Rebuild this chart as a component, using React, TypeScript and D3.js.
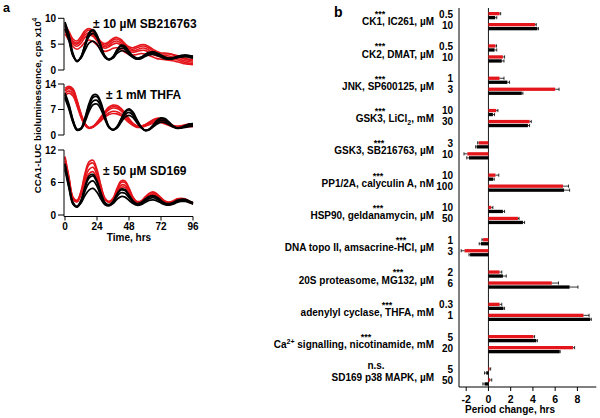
import React from 'react';
import * as d3 from 'd3';

// ---------- Panel a data (bioluminescence traces, cps x10^4) ----------
const HOURS = [0, 3, 6, 9, 12, 15, 18, 21, 24, 27, 30, 33, 36, 39, 42, 45, 48, 51, 54, 57, 60, 63, 66, 69, 72, 75, 78, 81, 84, 87, 90, 93, 96];

const SB_RED = [
  [8.0, 6.8, 5.6, 5.2, 6.0, 7.2, 7.7, 7.3, 6.2, 5.2, 4.8, 5.2, 5.8, 6.0, 5.6, 4.8, 4.2, 4.0, 4.3, 4.6, 4.6, 4.2, 3.7, 3.3, 3.1, 3.1, 3.1, 2.9, 2.6, 2.3, 2.1, 1.9, 1.8],
  [7.5, 6.2, 5.0, 4.6, 5.2, 6.3, 6.8, 6.5, 5.6, 4.6, 4.2, 4.5, 5.0, 5.2, 4.8, 4.1, 3.6, 3.4, 3.6, 3.8, 3.8, 3.4, 3.0, 2.7, 2.5, 2.5, 2.4, 2.2, 2.0, 1.7, 1.5, 1.3, 1.2],
  [7.0, 5.7, 4.5, 4.0, 4.5, 5.4, 5.8, 5.5, 4.8, 4.0, 3.6, 3.8, 4.2, 4.3, 4.0, 3.4, 3.0, 2.9, 3.0, 3.2, 3.1, 2.8, 2.5, 2.2, 2.1, 2.0, 1.9, 1.8, 1.6, 1.4, 1.2, 1.1, 1.0],
  [8.8, 7.4, 6.0, 5.6, 6.5, 7.6, 8.0, 7.6, 6.5, 5.5, 5.1, 5.5, 6.1, 6.3, 5.9, 5.1, 4.5, 4.3, 4.6, 4.9, 4.9, 4.5, 4.0, 3.6, 3.3, 3.3, 3.2, 3.0, 2.8, 2.5, 2.3, 2.1, 2.0],
  [7.8, 6.5, 5.3, 5.0, 5.7, 6.8, 7.2, 6.8, 5.8, 4.9, 4.5, 4.8, 5.4, 5.6, 5.2, 4.5, 3.9, 3.7, 3.9, 4.2, 4.2, 3.8, 3.3, 3.0, 2.8, 2.8, 2.7, 2.5, 2.3, 2.0, 1.8, 1.6, 1.5],
];
const SB_BLACK = [
  [9.0, 6.5, 3.0, 1.6, 2.5, 5.0, 7.2, 7.8, 6.8, 4.6, 2.6, 2.0, 2.5, 3.8, 4.6, 4.3, 3.4, 2.6, 2.2, 2.4, 2.9, 3.3, 3.4, 3.2, 2.8, 2.4, 2.2, 2.3, 2.6, 2.8, 2.9, 2.8, 2.6],
  [8.5, 6.0, 2.8, 1.7, 2.4, 4.5, 6.5, 7.1, 6.2, 4.3, 2.5, 2.0, 2.4, 3.5, 4.2, 4.0, 3.2, 2.5, 2.1, 2.3, 2.7, 3.1, 3.2, 3.0, 2.6, 2.3, 2.1, 2.2, 2.4, 2.6, 2.7, 2.6, 2.4],
  [8.0, 5.6, 2.7, 1.8, 2.3, 3.8, 5.2, 5.6, 5.0, 3.6, 2.4, 2.0, 2.3, 3.2, 3.7, 3.6, 3.0, 2.4, 2.1, 2.2, 2.6, 2.9, 3.0, 2.8, 2.5, 2.2, 2.1, 2.2, 2.4, 2.5, 2.6, 2.5, 2.3],
  [9.3, 6.8, 3.2, 1.7, 2.6, 4.8, 6.9, 7.6, 6.6, 4.5, 2.7, 2.1, 2.6, 3.9, 4.8, 4.6, 3.6, 2.7, 2.3, 2.5, 3.0, 3.4, 3.5, 3.3, 2.9, 2.5, 2.3, 2.4, 2.6, 2.8, 2.9, 2.8, 2.7],
];

const THFA_RED = [
  [12.0, 12.8, 12.0, 9.0, 5.5, 3.0, 2.0, 2.3, 3.3, 4.6, 5.9, 6.9, 7.4, 7.3, 6.6, 5.4, 4.1, 3.0, 2.4, 2.3, 2.7, 3.3, 3.9, 4.2, 4.1, 3.6, 3.0, 2.5, 2.3, 2.4, 2.6, 2.8, 2.8],
  [11.4, 12.1, 11.3, 8.4, 5.1, 2.8, 1.9, 2.2, 3.1, 4.2, 5.3, 6.1, 6.5, 6.4, 5.8, 4.8, 3.7, 2.8, 2.3, 2.2, 2.5, 3.0, 3.5, 3.8, 3.7, 3.3, 2.8, 2.4, 2.2, 2.3, 2.4, 2.5, 2.5],
  [12.8, 13.4, 12.7, 9.6, 5.9, 3.2, 2.1, 2.4, 3.5, 5.0, 6.5, 7.7, 8.2, 8.1, 7.3, 6.0, 4.5, 3.2, 2.5, 2.4, 2.8, 3.5, 4.2, 4.6, 4.5, 3.9, 3.2, 2.6, 2.4, 2.5, 2.8, 3.0, 3.0],
  [10.8, 11.5, 10.7, 8.0, 4.8, 2.6, 1.8, 2.1, 2.9, 3.9, 4.9, 5.6, 5.9, 5.8, 5.3, 4.4, 3.4, 2.6, 2.1, 2.1, 2.4, 2.8, 3.2, 3.4, 3.4, 3.0, 2.6, 2.2, 2.0, 2.1, 2.2, 2.3, 2.3],
  [12.3, 13.0, 12.4, 9.3, 5.7, 3.1, 2.0, 2.3, 3.4, 4.8, 6.2, 7.3, 7.8, 7.7, 7.0, 5.7, 4.3, 3.1, 2.5, 2.4, 2.8, 3.4, 4.0, 4.4, 4.3, 3.8, 3.1, 2.6, 2.3, 2.4, 2.7, 2.9, 2.9],
];
const THFA_BLACK = [
  [11.0, 8.0, 4.0, 1.5, 1.8, 4.5, 8.0, 10.3, 10.5, 8.5, 5.0, 2.2, 1.4, 2.2, 4.2, 6.2, 6.9, 6.0, 4.0, 2.2, 1.2, 1.5, 2.6, 3.8, 4.5, 4.3, 3.4, 2.4, 1.9, 2.0, 2.5, 2.9, 3.0],
  [10.5, 7.4, 3.6, 1.4, 1.7, 4.0, 7.2, 9.3, 9.5, 7.8, 4.6, 2.1, 1.4, 2.0, 3.8, 5.6, 6.2, 5.4, 3.7, 2.1, 1.3, 1.5, 2.4, 3.4, 4.0, 3.9, 3.1, 2.3, 1.9, 2.0, 2.3, 2.6, 2.7],
  [11.5, 8.4, 4.2, 1.6, 1.9, 4.8, 8.6, 10.9, 11.0, 8.9, 5.2, 2.3, 1.5, 2.3, 4.4, 6.5, 7.2, 6.3, 4.2, 2.3, 1.3, 1.6, 2.7, 4.0, 4.7, 4.5, 3.6, 2.5, 2.0, 2.1, 2.6, 3.0, 3.1],
  [10.0, 7.0, 3.4, 1.3, 1.6, 3.6, 6.4, 8.3, 8.5, 7.0, 4.2, 2.0, 1.4, 1.9, 3.4, 4.9, 5.4, 4.8, 3.3, 2.0, 1.3, 1.4, 2.2, 3.0, 3.5, 3.4, 2.8, 2.2, 1.8, 1.9, 2.1, 2.3, 2.4],
];

const SD_RED = [
  [10.5, 6.8, 3.2, 2.6, 4.2, 7.3, 9.3, 9.6, 8.0, 5.2, 3.0, 2.4, 3.0, 4.7, 6.0, 6.0, 4.8, 3.2, 2.4, 2.5, 3.2, 3.9, 4.1, 3.8, 3.1, 2.5, 2.3, 2.5, 2.9, 3.0, 2.9, 2.5, 2.2],
  [10.0, 6.4, 3.0, 2.5, 3.9, 6.6, 8.4, 8.8, 7.3, 4.8, 2.9, 2.4, 2.9, 4.4, 5.5, 5.5, 4.4, 3.0, 2.3, 2.4, 3.0, 3.6, 3.9, 3.6, 3.0, 2.4, 2.2, 2.4, 2.8, 2.9, 2.8, 2.4, 2.1],
  [10.8, 7.0, 3.3, 2.7, 4.4, 7.7, 9.8, 10.1, 8.4, 5.4, 3.1, 2.5, 3.1, 4.9, 6.3, 6.3, 5.0, 3.3, 2.5, 2.6, 3.3, 4.0, 4.3, 3.9, 3.2, 2.6, 2.4, 2.6, 3.0, 3.1, 3.0, 2.6, 2.3],
  [9.6, 6.1, 2.9, 2.4, 3.7, 6.1, 7.6, 8.0, 6.7, 4.5, 2.8, 2.3, 2.8, 4.2, 5.1, 5.1, 4.1, 2.9, 2.3, 2.4, 2.9, 3.5, 3.7, 3.4, 2.8, 2.3, 2.2, 2.3, 2.7, 2.8, 2.7, 2.3, 2.1],
];
const SD_BLACK = [
  [9.2, 5.5, 2.2, 1.5, 2.6, 5.0, 6.8, 7.2, 6.0, 3.8, 2.2, 1.8, 2.4, 3.7, 4.6, 4.5, 3.6, 2.5, 2.0, 2.2, 2.8, 3.3, 3.5, 3.2, 2.6, 2.1, 2.0, 2.2, 2.6, 2.8, 2.8, 2.5, 2.2],
  [8.8, 5.2, 2.1, 1.5, 2.4, 4.4, 5.9, 6.3, 5.3, 3.4, 2.1, 1.8, 2.3, 3.4, 4.1, 4.0, 3.2, 2.3, 1.9, 2.1, 2.6, 3.0, 3.2, 2.9, 2.4, 2.0, 1.9, 2.1, 2.5, 2.7, 2.7, 2.4, 2.1],
  [8.4, 4.9, 2.0, 1.5, 2.2, 3.6, 4.6, 4.9, 4.2, 2.9, 1.9, 1.7, 2.1, 2.9, 3.4, 3.3, 2.7, 2.1, 1.8, 1.9, 2.3, 2.7, 2.8, 2.6, 2.2, 1.9, 1.8, 2.0, 2.3, 2.5, 2.5, 2.3, 2.0],
  [9.5, 5.7, 2.3, 1.6, 2.7, 5.3, 7.2, 7.5, 6.3, 4.0, 2.3, 1.9, 2.5, 3.9, 4.8, 4.7, 3.7, 2.6, 2.1, 2.3, 2.9, 3.4, 3.6, 3.3, 2.7, 2.2, 2.1, 2.3, 2.7, 2.9, 2.9, 2.6, 2.3],
];

const TRACE_TITLES = ['± 10 µM SB216763', '± 1 mM THFA', '± 50 µM SD169'];
const TRACE_MAX = [10, 14, 12];
const TRACE_TICKS = [[0, 5, 10], [0, 7, 14], [0, 6, 12]];
const TIME_TICKS = [0, 24, 48, 72, 96];

// ---------- Panel b data (period change, hrs) ----------
const GROUPS = [
  'CK1, IC261, µM',
  'CK2, DMAT, µM',
  'JNK, SP600125, µM',
  'GSK3, LiCl_2, mM',
  'GSK3, SB216763, µM',
  'PP1/2A, calyculin A, nM',
  'HSP90, geldanamycin, µM',
  'DNA topo II, amsacrine-HCl, µM',
  '20S proteasome, MG132, µM',
  'adenylyl cyclase, THFA, mM',
  'Ca^2+ signalling, nicotinamide, mM',
  'SD169 p38 MAPK, µM',
];
const SIGNIF = ['***', '***', '***', '***', '***', '***', '***', '***', '***', '***', '***', 'n.s.'];
const DOSES = [
  ['0.5', '10'], ['0.5', '10'], ['1', '3'], ['10', '30'], ['3', '10'], ['10', '100'],
  ['10', '50'], ['1', '3'], ['2', '6'], ['0.3', '1'], ['5', '20'], ['5', '50'],
];
const RED_VALUES = [
  [1.0, 4.2], [0.63, 1.3], [1.0, 6.0], [0.7, 3.7], [-0.87, -1.9], [0.63, 6.7],
  [0.25, 2.65], [-0.48, -2.15], [1.0, 5.7], [1.0, 8.55], [4.05, 7.6], [0.1, 0.15],
];
const RED_ERRORS = [
  [0.1, 0.1], [0.1, 0.15], [0.4, 0.35], [0.15, 0.15], [0.1, 0.3], [0.3, 0.5],
  [0.15, 0.1], [0.1, 0.3], [0.2, 0.6], [0.2, 0.5], [0.1, 0.15], [0.1, 0.15],
];
const BLACK_VALUES = [
  [0.6, 4.4], [0.55, 1.2], [1.7, 3.0], [0.4, 3.55], [-1.05, -1.75], [0.42, 6.8],
  [1.3, 3.1], [-0.68, -1.65], [1.3, 7.3], [1.35, 9.15], [4.3, 6.4], [-0.2, -0.35],
];
const BLACK_ERRORS = [
  [0.15, 0.1], [0.2, 0.2], [0.2, 0.1], [0.15, 0.15], [0.1, 0.2], [0.1, 0.5],
  [0.15, 0.15], [0.15, 0.1], [0.3, 0.75], [0.1, 0.1], [0.1, 0.05], [0.15, 0.15],
];
const PERIOD_TICKS = [-2, 0, 2, 4, 6, 8];

// ---------- layout ----------
const RED = '#e4151b';
const FONT = '"Liberation Sans", Arial, Helvetica, sans-serif';
const STAR_X = [380, 380, 380, 380, 379, 378, 378, 401, 398, 387, 366, 376];
const PANELS_Y: [number, number][] = [[70, 18.3], [135, 84], [215, 150]];
const TITLE_POS: [number, number][] = [[93, 28], [106, 99], [103, 175]];

function RichLabel({ text }: { text: string }) {
  const parts = text.split(/(_[^ ,]+|\^[^ ,]+)/).filter((p) => p.length);
  return (
    <>
      {parts.map((p, i) => {
        if (p.startsWith('_'))
          return <tspan key={i} fontSize={7} dy={2.5}>{p.slice(1)}</tspan>;
        if (p.startsWith('^'))
          return <tspan key={i} fontSize={7} dy={-4}>{p.slice(1)}</tspan>;
        const prev = parts[i - 1];
        const dy = prev && prev.startsWith('_') ? -2.5 : prev && prev.startsWith('^') ? 4 : 0;
        return <tspan key={i} dy={dy}>{p}</tspan>;
      })}
    </>
  );
}

export default function App() {
  // Panel a scales
  const x = d3.scaleLinear().domain([0, 96]).range([65, 193]);
  const traceSets = [
    { red: SB_RED, black: SB_BLACK },
    { red: THFA_RED, black: THFA_BLACK },
    { red: SD_RED, black: SD_BLACK },
  ];

  // Panel b scales
  const xb = d3.scaleLinear().domain([-2, 8]).range([466.2, 577.4]);
  const groupY = d3
    .scaleBand<number>()
    .domain(GROUPS.map((_, i) => i))
    .range([12, 12 + 32.3 * GROUPS.length])
    .padding(0);
  const barH = 3.3;
  const axisY = 387;
  const axisLeft = 459;

  return (
    <svg
      width={600}
      height={418}
      style={{ position: 'absolute', left: 0, top: 0, background: '#fff' }}
      fontFamily={FONT}
      fontWeight="bold"
    >
      <rect width={600} height={418} fill="#fff" />
      {/* panel letters */}
      <text x={3} y={11.5} fontSize={12.5} fontWeight="bold">a</text>
      <text x={334} y={16.5} fontSize={14} fontWeight="bold">b</text>

      {/* ---------- panel a ---------- */}
      {traceSets.map((set, pi) => {
        const y = d3.scaleLinear().domain([0, TRACE_MAX[pi]]).range(PANELS_Y[pi]);
        const line = d3
          .line<number>()
          .x((_, i) => x(HOURS[i]))
          .y((d) => y(d))
          .curve(d3.curveCatmullRom.alpha(0.5));
        const yBottom = pi === 2 ? 216.5 : y(0);
        return (
          <g key={pi}>
            {set.red.map((s, i) => (
              <path key={'r' + i} d={line(s) || ''} fill="none" stroke={RED} strokeWidth={1.6} />
            ))}
            {set.black.map((s, i) => (
              <path key={'b' + i} d={line(s) || ''} fill="none" stroke="#000" strokeWidth={1.7} />
            ))}
            <line x1={64} x2={64} y1={y(TRACE_MAX[pi])} y2={yBottom} stroke="#000" strokeWidth={1} />
            {TRACE_TICKS[pi].map((t) => (
              <g key={t}>
                <line x1={58} x2={64} y1={y(t)} y2={y(t)} stroke="#000" strokeWidth={1} />
                <text x={56} y={y(t) + 3.5} fontSize={10} textAnchor="end">{t}</text>
              </g>
            ))}
            <text x={TITLE_POS[pi][0]} y={TITLE_POS[pi][1]} fontSize={12}>{TRACE_TITLES[pi]}</text>
          </g>
        );
      })}
      {/* x axis for bottom trace panel */}
      <line x1={64} x2={x(96)} y1={216.5} y2={216.5} stroke="#000" strokeWidth={1} />
      {TIME_TICKS.map((t) => (
        <g key={t}>
          <line x1={x(t)} x2={x(t)} y1={216.5} y2={220.5} stroke="#000" strokeWidth={1} />
          <text x={x(t)} y={229.5} fontSize={10} textAnchor="middle">{t}</text>
        </g>
      ))}
      <text x={129} y={240.5} fontSize={10} textAnchor="middle">Time, hrs</text>
      <text
        transform="translate(40.5,105.5) rotate(-90)"
        fontSize={9.7}
        textAnchor="middle"
      >
        CCA1-LUC bioluminescence, cps x10<tspan fontSize={6.5} dy={-4}>4</tspan>
      </text>

      {/* ---------- panel b ---------- */}
      <line x1={axisLeft} x2={axisLeft} y1={8} y2={axisY} stroke="#000" strokeWidth={1} />
      <line x1={xb(0)} x2={xb(0)} y1={8} y2={axisY} stroke="#000" strokeWidth={0.9} />
      <line x1={axisLeft} x2={xb(9.7)} y1={axisY} y2={axisY} stroke="#000" strokeWidth={1} />
      {PERIOD_TICKS.map((t) => (
        <g key={t}>
          <line x1={xb(t)} x2={xb(t)} y1={axisY} y2={axisY + 4} stroke="#000" strokeWidth={1} />
          <text x={xb(t)} y={axisY + 15.5} fontSize={10.5} textAnchor="middle">{t}</text>
        </g>
      ))}
      <text x={510} y={412.5} fontSize={10} textAnchor="middle">Period change, hrs</text>

      {GROUPS.map((g, gi) => {
        const g0 = groupY(gi) as number;
        const bars: { v: number; e: number; color: string; off: number }[] = [];
        [0, 1].forEach((d) => {
          bars.push({ v: RED_VALUES[gi][d], e: RED_ERRORS[gi][d], color: RED, off: d * 11 });
          bars.push({ v: BLACK_VALUES[gi][d], e: BLACK_ERRORS[gi][d], color: '#000', off: d * 11 + 4 });
        });
        return (
          <g key={gi}>
            <text x={434} y={g0 + 13.2} fontSize={10} textAnchor="end">
              <RichLabel text={g} />
            </text>
            <text
              x={STAR_X[gi]}
              y={SIGNIF[gi] === 'n.s.' ? g0 + 1.8 : g0 + 5}
              fontSize={SIGNIF[gi] === 'n.s.' ? 10 : 9}
              textAnchor="middle"
            >
              {SIGNIF[gi]}
            </text>
            {DOSES[gi].map((d, di) => (
              <text key={di} x={453} y={g0 + di * 11 + 5.5} fontSize={10} textAnchor="end">{d}</text>
            ))}
            {bars.map((b, bi) => {
              const x0 = xb(Math.min(0, b.v));
              const x1 = xb(Math.max(0, b.v));
              const yc = g0 + b.off + barH / 2;
              const sign = b.v >= 0 ? 1 : -1;
              const xe = xb(b.v + sign * b.e);
              return (
                <g key={bi}>
                  <rect x={x0} y={g0 + b.off} width={Math.max(0.8, x1 - x0)} height={barH} fill={b.color} />
                  <line x1={xb(b.v)} x2={xe} y1={yc} y2={yc} stroke="#000" strokeWidth={0.8} />
                  <line x1={xe} x2={xe} y1={yc - 1.6} y2={yc + 1.6} stroke="#000" strokeWidth={0.8} />
                </g>
              );
            })}
          </g>
        );
      })}
    </svg>
  );
}
